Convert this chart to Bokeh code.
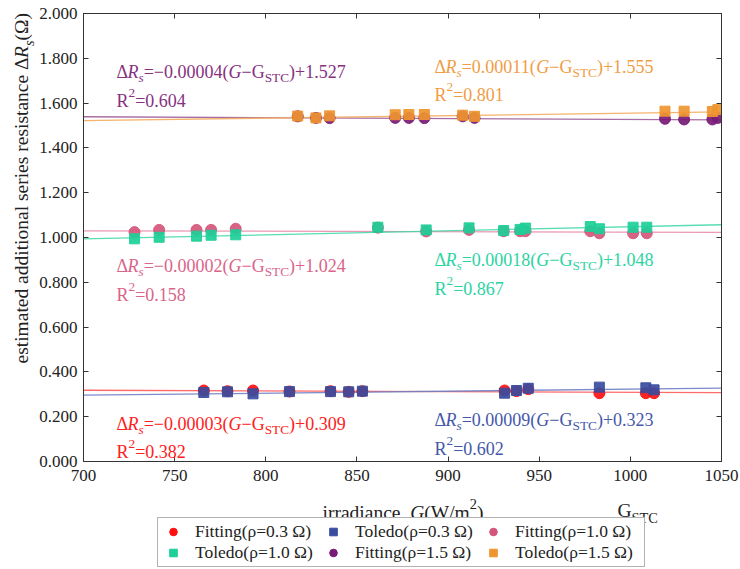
from math import pi

from bokeh.plotting import figure
from bokeh.layouts import column, row
from bokeh.models import (Label, Legend, LegendItem, LinearAxis, FixedTicker,
                          Range1d, NumeralTickFormatter, CustomJSTickFormatter)
from bokeh.embed import file_html
from bokeh.resources import INLINE

# ---------------------------------------------------------------- data
G_STC = 1000.0

x_ticks = [700, 750, 800, 850, 900, 950, 1000, 1050]
y_ticks = [0.0, 0.2, 0.4, 0.6, 0.8, 1.0, 1.2, 1.4, 1.6, 1.8, 2.0]

# rho = 0.3 ohm
g_low = [766, 779, 793, 813, 835.5, 845.5, 853, 931, 937.5, 944, 983, 1008.5, 1013]
fit_03 = [0.317, 0.314, 0.317, 0.3125, 0.314, 0.311, 0.314, 0.317, 0.314, 0.323, 0.305, 0.305, 0.305]
toledo_03 = [0.308, 0.311, 0.302, 0.312, 0.312, 0.311, 0.314, 0.305, 0.317, 0.327, 0.332, 0.329, 0.320]

# rho = 1.0 ohm
g_mid = [728, 741.5, 762, 770, 783.5, 861.5, 888, 911.5, 930.5, 939.5, 942.5, 978, 983, 1001.5, 1009]
fit_10 = [1.024, 1.034, 1.034, 1.034, 1.039, 1.044, 1.027, 1.034, 1.028, 1.028, 1.028, 1.028, 1.019, 1.019, 1.019]
toledo_10 = [0.994, 1.001, 1.006, 1.010, 1.012, 1.046, 1.034, 1.043, 1.031, 1.036, 1.042, 1.049, 1.039, 1.046, 1.046]

# rho = 1.5 ohm
g_high = [817.5, 827.5, 835, 871, 878.5, 887, 908, 914.5, 1019, 1029.5, 1045, 1048]
fit_15 = [1.541, 1.534, 1.533, 1.534, 1.534, 1.533, 1.541, 1.534, 1.530, 1.527, 1.527, 1.534]
toledo_15 = [1.542, 1.534, 1.543, 1.548, 1.549, 1.549, 1.546, 1.541, 1.564, 1.564, 1.5625, 1.571]

# linear fits  dR = slope*(G - G_STC) + intercept
series_names = ["Fitting(ρ=0.3 Ω)", "Toledo(ρ=0.3 Ω)", "Fitting(ρ=1.0 Ω)",
                "Toledo(ρ=1.0 Ω)", "Fitting(ρ=1.5 Ω)", "Toledo(ρ=1.5 Ω)"]
slopes = [-0.00003, 0.00009, -0.00002, 0.00018, -0.00004, 0.00011]
intercepts = [0.309, 0.323, 1.024, 1.048, 1.527, 1.555]
r_squared = [0.382, 0.602, 0.158, 0.867, 0.604, 0.801]

# ---------------------------------------------------------------- style
marker_colors = ["#FF1010", "#3A4C9E", "#D4567B", "#1DCF98", "#771B76", "#EF9530"]
line_colors = ["#FF5A5A", "#6F7FC4", "#E98DA8", "#45D8AC", "#9C5C99", "#F3AC5E"]
text_colors = ["#FF2020", "#4558AA", "#DA6489", "#2BD4A2", "#86317F", "#F09D45"]
markers = ["circle", "square"] * 3

SERIF = "Liberation Serif"
INK = "#222222"
W, H = 740, 569
LEFT_W = 36            # strip holding the vertical axis title
MAIN_H = 491           # main figure height (frame + tick labels)
FL, FR, FT, FB = 82, 721, 13, 461   # frame edges in page px


def bare_figure(width, height):
    f = figure(width=width, height=height, x_range=Range1d(0, 1), y_range=Range1d(0, 1),
               output_backend="svg", toolbar_location=None, min_border=0,
               x_axis_location=None, y_axis_location=None)
    f.outline_line_color = None
    f.xgrid.visible = False
    f.ygrid.visible = False
    f.background_fill_color = "white"
    f.border_fill_color = "white"
    return f


p = figure(width=W - LEFT_W, height=MAIN_H, x_range=Range1d(700, 1050), y_range=Range1d(0, 2),
           output_backend="svg", toolbar_location=None,
           min_border_left=FL - LEFT_W, min_border_right=W - FR,
           min_border_top=FT, min_border_bottom=MAIN_H - FB)
p.background_fill_color = "white"
p.border_fill_color = "white"
p.outline_line_color = "#333333"
p.xgrid.visible = False
p.ygrid.visible = False

blank = CustomJSTickFormatter(code="return ''")
p.add_layout(LinearAxis(formatter=blank), "above")
p.add_layout(LinearAxis(formatter=blank), "right")

for ax in p.axis:
    ax.axis_line_color = "#333333"
    ax.major_tick_line_color = "#333333"
    ax.major_tick_in = 5
    ax.major_tick_out = 0
    ax.minor_tick_line_color = None
    ax.major_label_text_font = SERIF
    ax.major_label_text_font_size = "17px"
    ax.major_label_text_color = INK

for ax in p.xaxis:
    ax.ticker = FixedTicker(ticks=x_ticks)
    ax.major_label_standoff = 8
for ax in p.yaxis:
    ax.ticker = FixedTicker(ticks=y_ticks)
    ax.major_label_standoff = 6
p.left[0].formatter = NumeralTickFormatter(format="0.000")

# ---------------------------------------------------------------- marks
xs = [g_low, g_low, g_mid, g_mid, g_high, g_high]
ys = [fit_03, toledo_03, fit_10, toledo_10, fit_15, toledo_15]

for i in range(6):
    g0, g1 = 700.0, 1050.0
    p.line([g0, g1],
           [slopes[i] * (g0 - G_STC) + intercepts[i], slopes[i] * (g1 - G_STC) + intercepts[i]],
           line_color=line_colors[i], line_width=1.3, line_alpha=0.9)

for i in range(6):
    size = 11 if markers[i] == "circle" else 10
    p.scatter(xs[i], ys[i], marker=markers[i], size=size,
              fill_color=marker_colors[i], line_color=marker_colors[i],
              fill_alpha=0.92, line_alpha=0.92)

# ---------------------------------------------------------------- text runs
REG = {' ': 250, '(': 333, ')': 333, '+': 564, '.': 250, '/': 278, '=': 564,
       'C': 667, 'G': 722, 'R': 667, 'S': 556, 'T': 611, 'W': 944,
       'a': 444, 'c': 444, 'd': 500, 'e': 444, 'i': 278, 'l': 278, 'm': 778,
       'n': 500, 'o': 500, 'r': 333, 's': 389, 't': 278,
       'Δ': 612, 'Ω': 768, '−': 564, 'ρ': 500}
ITA = {'R': 611, 'G': 722, 's': 389}


def run_width(txt, italic):
    table = ITA if italic else REG
    return sum(table.get(ch, REG.get(ch, 500)) for ch in txt) / 1000.0


def text_run(fig, origin, parts, X, Y, size, color, vertical=False):
    """Place (text, italic, shift) pieces on fig; (X, Y) is the baseline start in page px,
    origin is the page position of the frame's bottom-left corner."""
    ox, oy = origin
    pos = 0.0
    for txt, italic, shift in parts:
        fs = size * (0.74 if shift else 1.0)
        off = {0: 0.0, -1: 0.36 * size, 1: -0.42 * size}[shift]
        if vertical:
            px, py = X + off, Y - pos
        else:
            px, py = X + pos, Y + off
        fig.add_layout(Label(x=px - ox, y=oy - py, x_units="screen", y_units="screen",
                             text=txt, text_font=SERIF, text_font_size=f"{fs:.1f}px",
                             text_font_style="italic" if italic else "normal",
                             text_color=color, text_align="left", text_baseline="alphabetic",
                             angle=pi / 2 if vertical else 0.0))
        pos += run_width(txt, italic) * fs


def signed(v):
    return f"{v:.5f}".replace("-", "−")


eq_pos = [(115, 423, 451), (433, 419, 448), (115, 265, 294),
          (433, 259, 288), (115, 71, 100), (433, 66, 94)]
for i in range(6):
    X, y_eq, y_r2 = eq_pos[i]
    eq = [("Δ", False, 0), ("R", True, 0), ("s", True, -1),
          ("=" + signed(slopes[i]) + "(", False, 0), ("G", True, 0),
          ("−G", False, 0), ("STC", False, -1),
          (f")+{intercepts[i]:.3f}", False, 0)]
    text_run(p, (FL, FB), eq, X, y_eq, 18, text_colors[i])
    text_run(p, (FL, FB), [("R", False, 0), ("2", False, 1), (f"={r_squared[i]:.3f}", False, 0)],
             X, y_r2, 18, text_colors[i])

# ---------------------------------------------------------------- vertical axis title
ylab = bare_figure(LEFT_W, MAIN_H)
text_run(ylab, (0, MAIN_H),
         [("estimated additional series resistance ", False, 0), ("Δ", False, 0),
          ("R", True, 0), ("s", True, -1), ("(Ω)", False, 0)],
         21, 393, 19.5, INK, vertical=True)

# ---------------------------------------------------------------- x title and legend strip
bottom = bare_figure(W, H - MAIN_H)
text_run(bottom, (0, H), [("irradiance  ", False, 0), ("G", True, 0), ("(W/m", False, 0),
                          ("2", False, 1), (")", False, 0)], 322, 512, 19.5, INK)
text_run(bottom, (0, H), [("G", False, 0), ("STC", False, -1)], 617, 510, 19.5, INK)

# legend keys: same series, plotted in the strip's own (0..1) ranges, so only the key glyphs show
keys = []
for i in range(6):
    size = 11 if markers[i] == "circle" else 10
    keys.append(bottom.scatter(xs[i], ys[i], marker=markers[i], size=size,
                               fill_color=marker_colors[i], line_color=marker_colors[i]))

items = [LegendItem(label=series_names[i], renderers=[keys[i]]) for i in range(6)]
legend = Legend(items=items, location=(157, H - 567), orientation="horizontal",
                ncols=3, padding=3, spacing=0, margin=0,
                glyph_width=24, glyph_height=19, label_standoff=10, label_width=126,
                label_height=19, label_text_font=SERIF, label_text_font_size="17.5px",
                label_text_color=INK, border_line_color="#666666",
                border_line_width=1, background_fill_color="white", background_fill_alpha=1.0)
bottom.add_layout(legend, "center")

layout = column(row(ylab, p), bottom)
open("out.html", "w").write(file_html(layout, INLINE))
